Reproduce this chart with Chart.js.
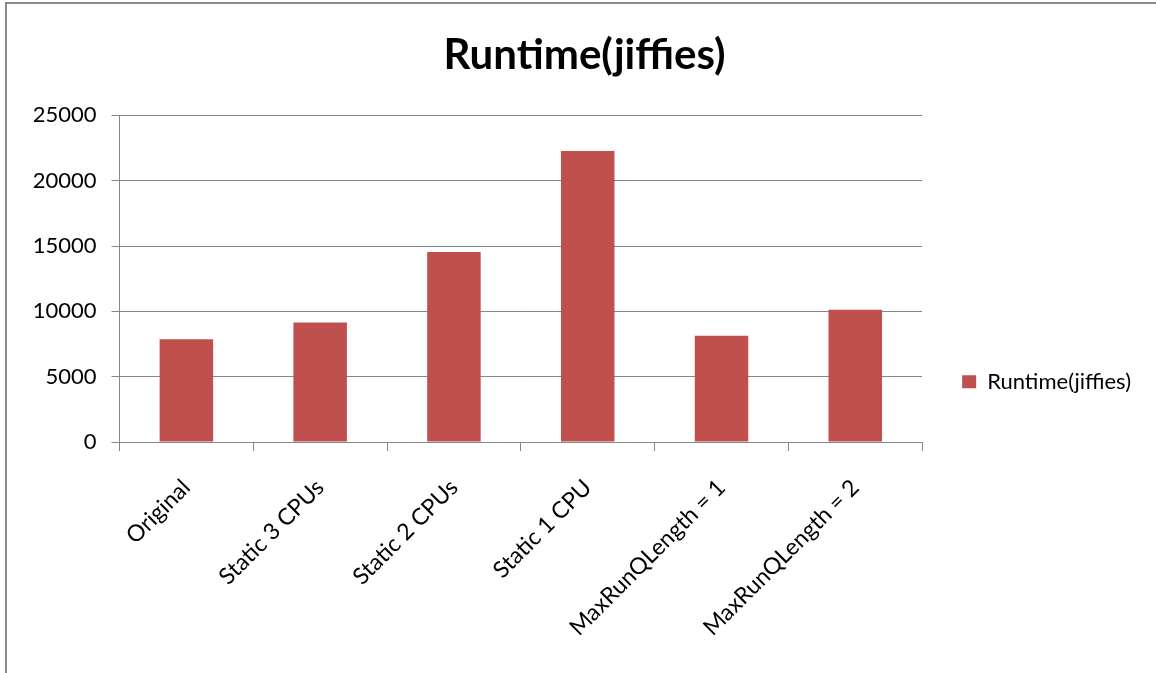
<!DOCTYPE html>
<html>
<head>
<meta charset="utf-8">
<title>Runtime(jiffies)</title>
<script src="https://cdn.jsdelivr.net/npm/chart.js@4.4.1/dist/chart.umd.min.js"></script>
<style>
  html, body { margin: 0; padding: 0; background: #fff; }
  #wrap { position: relative; width: 1156px; height: 673px; overflow: hidden; }
  #frame {
    position: absolute; left: 5px; top: 2px; width: 1300px; height: 800px;
    border-left: 2px solid #8a8a8a; border-top: 2px solid #8a8a8a;
    pointer-events: none;
  }
</style>
</head>
<body>
<div id="wrap">
  <canvas id="runtimeChart" width="1156" height="673"></canvas>
  <div id="frame"></div>
</div>
<script>
// data
const categories = ['Original', 'Static 3 CPUs', 'Static 2 CPUs', 'Static 1 CPU', 'MaxRunQLength = 1', 'MaxRunQLength = 2'];
const runtimeJiffies = [7860, 9140, 14540, 22270, 8140, 10130];
const seriesName = 'Runtime(jiffies)';
const yMin = 0;
const yMax = 25000;
const yStep = 5000;

const barRed = '#C0504D';
const axisGrey = '#868686';
const fontFamily = 'Lato, "Open Sans", sans-serif';

function init() {
    const ctx = document.getElementById('runtimeChart').getContext('2d');
    new Chart(ctx, {
        type: 'bar',
        data: {
            labels: categories,
            datasets: [{
                label: seriesName,
                data: runtimeJiffies,
                backgroundColor: barRed,
                borderWidth: 0,
                barPercentage: 0.4,
                categoryPercentage: 1.0
            }]
        },
        options: {
            responsive: false,
            animation: false,
            layout: { padding: { top: 10, right: 15, bottom: 26, left: 28 } },
            plugins: {
                title: {
                    display: true,
                    text: seriesName,
                    color: '#000',
                    font: { family: fontFamily, size: 42, weight: 'bold', lineHeight: 1.2 },
                    padding: { top: 20, bottom: 35 }
                },
                legend: {
                    position: 'right',
                    // empty legend title only pushes the item down to where Excel puts it
                    title: {
                        display: true,
                        text: '',
                        font: { family: fontFamily, size: 22, lineHeight: 1.2 },
                        padding: { top: 40, bottom: 40 }
                    },
                    labels: {
                        color: '#000',
                        font: { family: fontFamily, size: 22 },
                        boxWidth: 14,
                        boxHeight: 13,
                        padding: 40
                    }
                },
                tooltip: { enabled: false }
            },
            scales: {
                x: {
                    offset: true,
                    grid: {
                        offset: true,
                        drawOnChartArea: false,
                        drawTicks: true,
                        tickLength: 9,
                        color: axisGrey
                    },
                    border: { color: axisGrey, width: 1 },
                    ticks: {
                        color: '#000',
                        font: { family: fontFamily, size: 23 },
                        maxRotation: 45,
                        minRotation: 45,
                        padding: 23,
                        autoSkip: false
                    },
                    afterFit: (scale) => { scale.height = 205; }
                },
                y: {
                    min: yMin,
                    max: yMax,
                    grid: { color: axisGrey, tickLength: 8 },
                    border: { color: axisGrey, width: 1 },
                    ticks: {
                        stepSize: yStep,
                        color: '#000',
                        font: { family: fontFamily, size: 22 },
                        padding: 15,
                        callback: (value) => String(value)
                    },
                    afterFit: (scale) => { scale.width = 91.5; }
                }
            }
        }
    });
}

document.addEventListener('DOMContentLoaded', init);
</script>
</body>
</html>
